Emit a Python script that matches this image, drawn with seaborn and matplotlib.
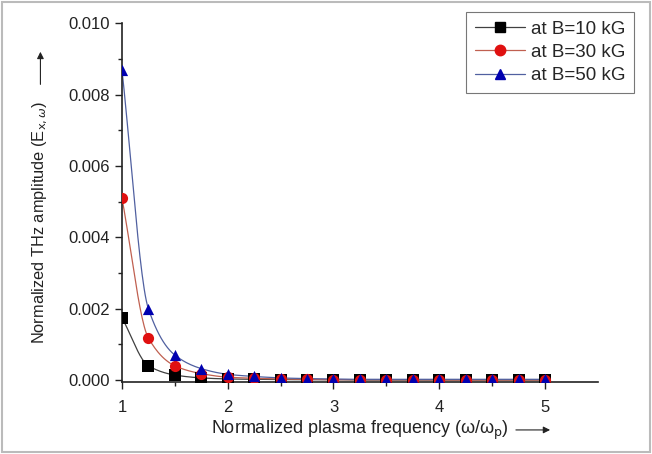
import numpy as np
import pandas as pd
import matplotlib
matplotlib.use("Agg")
import matplotlib.pyplot as plt
import seaborn as sns
from matplotlib.patches import Rectangle, FancyArrowPatch

freq = [1.0, 1.25, 1.5, 1.75, 2.0, 2.25, 2.5, 2.75, 3.0, 3.25, 3.5, 3.75, 4.0, 4.25, 4.5, 4.75, 5.0]
amp_10 = [0.00175, 0.00040, 0.00014, 0.00006, 0.00003, 0.00002, 0.00001, 0.00001, 0.00001, 0.00000,
          0.00000, 0.00000, 0.00000, 0.00000, 0.00000, 0.00000, 0.00000]
amp_30 = [0.00510, 0.00118, 0.00040, 0.00018, 0.00008, 0.00005, 0.00003, 0.00002, 0.00001, 0.00001,
          0.00001, 0.00001, 0.00000, 0.00000, 0.00000, 0.00000, 0.00000]
amp_50 = [0.00870, 0.00200, 0.00070, 0.00032, 0.00016, 0.00010, 0.00006, 0.00004, 0.00003, 0.00002,
          0.00002, 0.00002, 0.00002, 0.00002, 0.00002, 0.00002, 0.00002]
labels = ["at B=10 kG", "at B=30 kG", "at B=50 kG"]
colors = ["#000000", "#e01010", "#0000b0"]
line_colors = ["#404040", "#c06050", "#5060a0"]
markers = ["s", "o", "^"]

sns.set_theme(style="ticks")
plt.rcParams["font.family"] = ["Liberation Sans", "DejaVu Sans"]

fig = plt.figure(figsize=(6.52, 4.54), dpi=100)
ax = fig.add_axes([0.187, 0.159, 0.730, 0.790])


def pchip(x, y, xs):
    x = np.asarray(x, float); y = np.asarray(y, float)
    h = np.diff(x); d = np.diff(y) / h
    m = np.zeros_like(y)
    for k in range(1, len(x) - 1):
        if d[k - 1] * d[k] > 0:
            w1 = 2 * h[k] + h[k - 1]; w2 = h[k] + 2 * h[k - 1]
            m[k] = (w1 + w2) / (w1 / d[k - 1] + w2 / d[k])
    m[0] = d[0]; m[-1] = d[-1]
    idx = np.clip(np.searchsorted(x, xs) - 1, 0, len(h) - 1)
    t = (xs - x[idx]) / h[idx]
    h00 = 2 * t**3 - 3 * t**2 + 1; h10 = t**3 - 2 * t**2 + t
    h01 = -2 * t**3 + 3 * t**2; h11 = t**3 - t**2
    return h00 * y[idx] + h10 * h[idx] * m[idx] + h01 * y[idx + 1] + h11 * h[idx] * m[idx + 1]


xs = np.linspace(freq[0], freq[-1], 400)
handles = []
for ys, lab, c, lc, mk in zip([amp_10, amp_30, amp_50], labels, colors, line_colors, markers):
    df = pd.DataFrame({"x": xs, "y": pchip(freq, ys, xs)})
    sns.lineplot(data=df, x="x", y="y", ax=ax, color=lc, lw=0.9, legend=False)
    dp = pd.DataFrame({"x": freq, "y": ys})
    sns.scatterplot(data=dp, x="x", y="y", ax=ax, color=c, marker=mk, s=65,
                    edgecolor=c, linewidth=0, legend=False, zorder=5)
    handles.append(plt.Line2D([], [], color=lc, lw=0.9, marker=mk, markersize=7.5,
                              markerfacecolor=c, markeredgecolor=c))

ax.set_xlim(1, 5.5)
ax.set_ylim(-0.00005, 0.0100)
ax.set_xticks([1, 2, 3, 4, 5])
ax.set_xticklabels(["1", "2", "3", "4", "5"])
ax.set_xticks([1.5, 2.5, 3.5, 4.5], minor=True)
ax.set_yticks([0.0, 0.002, 0.004, 0.006, 0.008, 0.010])
ax.set_yticklabels(["0.000", "0.002", "0.004", "0.006", "0.008", "0.010"])
ax.set_yticks([0.001, 0.003, 0.005, 0.007, 0.009], minor=True)
ax.tick_params(axis="both", which="major", length=5, width=1, labelsize=12, direction="out", colors="#222222")
ax.tick_params(axis="x", which="major", pad=8)
ax.tick_params(axis="both", which="minor", length=3, width=1, direction="out", colors="#222222")
for s in ["top", "right"]:
    ax.spines[s].set_visible(False)
for s in ["left", "bottom"]:
    ax.spines[s].set_linewidth(1.2)
    ax.spines[s].set_color("#222222")
ax.set_xlabel("")
ax.set_ylabel("")

fig.text(0.552, 0.053, r"Normalized plasma frequency (ω/ω$_\mathrm{p}$)",
         ha="center", va="center", fontsize=13, color="#222222")
fig.text(0.062, 0.51, r"Normalized THz amplitude (E$_{\mathrm{x},\omega}$)",
         ha="center", va="center", rotation=90, fontsize=11.8, color="#222222")
fig.add_artist(FancyArrowPatch((0.787, 0.053), (0.848, 0.053),
               transform=fig.transFigure, arrowstyle="-|>", mutation_scale=10, lw=0.8, color="#222222"))
fig.add_artist(FancyArrowPatch((0.062, 0.808), (0.062, 0.892),
               transform=fig.transFigure, arrowstyle="-|>", mutation_scale=10, lw=0.8, color="#222222"))

leg = fig.legend(handles, labels, loc="upper right", bbox_to_anchor=(0.972, 0.973),
                 frameon=True, fancybox=False, fontsize=13.5, handlelength=2.7,
                 borderpad=0.45, labelspacing=0.32, handletextpad=0.3, borderaxespad=0)
leg.get_frame().set_edgecolor("#555555")
leg.get_frame().set_linewidth(0.8)

fig.add_artist(Rectangle((0.003, 0.005), 0.994, 0.99, transform=fig.transFigure,
                         fill=False, edgecolor="#bbbbbb", lw=1.5))

fig.savefig("out.png", dpi=100)
